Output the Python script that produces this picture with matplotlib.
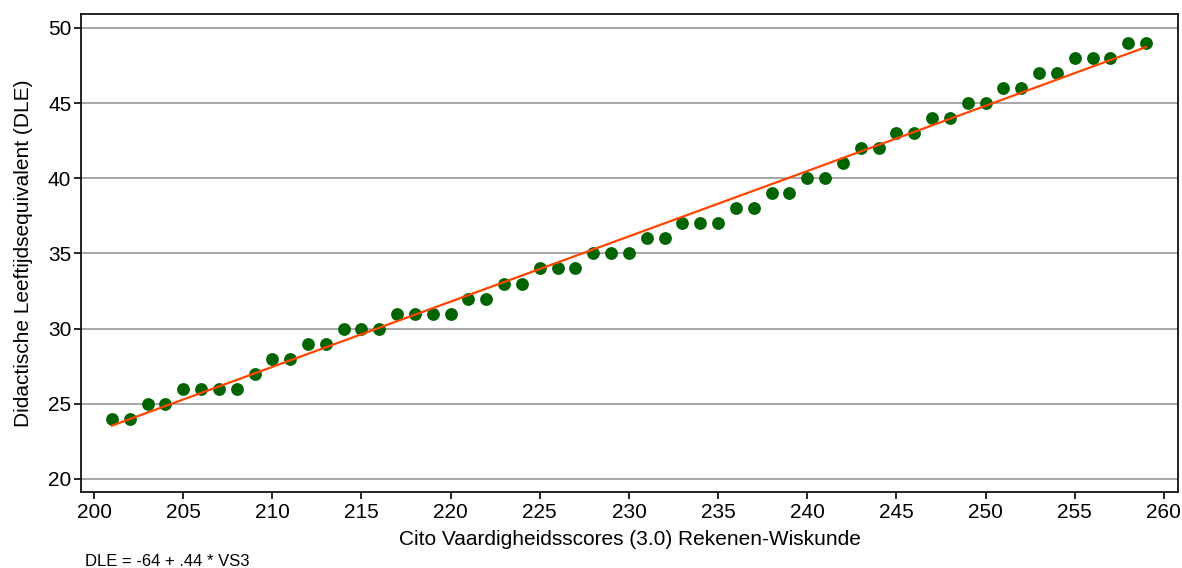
import matplotlib
matplotlib.use("Agg")
import matplotlib.pyplot as plt
import numpy as np

plt.rcParams["font.family"] = ["Liberation Sans", "DejaVu Sans"]

# data
vs3 = list(range(201, 260))
dle = [24, 24, 25, 25, 26, 26, 26, 26, 27, 28, 28, 29, 29, 30, 30, 30,
       31, 31, 31, 31, 32, 32, 33, 33, 34, 34, 34, 35, 35, 35, 36, 36,
       37, 37, 37, 38, 38, 39, 39, 40, 40, 41, 42, 42, 43, 43, 44, 44,
       45, 45, 46, 46, 47, 47, 48, 48, 48, 49, 49]
fit_intercept = -63.75
fit_slope = 0.4343
note = "DLE = -64 + .44 * VS3"

GREEN = "#006400"
ORANGE = "#ff4500"
GRID = "#a6a6a6"

fig = plt.figure(figsize=(11.82, 5.68), dpi=100)
ax = fig.add_axes([81 / 1182, 1 - 492 / 568, (1178 - 81) / 1182, (492 - 14) / 568])

xfit = np.array([vs3[0], vs3[-1]])
ax.scatter(vs3, dle, s=85, color=GREEN, linewidths=0, zorder=3)
ax.plot(xfit, fit_intercept + fit_slope * xfit, color=ORANGE, linewidth=1.6, zorder=4)

ax.set_xlim(199.27, 260.79)
ax.set_ylim(19.13, 50.93)
ax.set_xticks(range(200, 261, 5))
ax.set_yticks(range(20, 51, 5))
ax.grid(axis="y", color=GRID, linewidth=1.4)
ax.set_axisbelow(True)
ax.tick_params(labelsize=15, length=5, width=1.2, color="black")
ax.tick_params(axis="x", pad=3)
ax.tick_params(axis="y", pad=2)
for s in ax.spines.values():
    s.set_linewidth(1.3)
    s.set_color("#111111")

ax.set_xlabel("Cito Vaardigheidsscores (3.0) Rekenen-Wiskunde", fontsize=15, labelpad=6)
ax.set_ylabel("Didactische Leeftijdsequivalent (DLE)", fontsize=15, labelpad=11)
fig.text(85 / 1182, 1 - 562 / 568, note, fontsize=12, ha="left", va="center")

fig.savefig("out.png", dpi=100, facecolor="white")
